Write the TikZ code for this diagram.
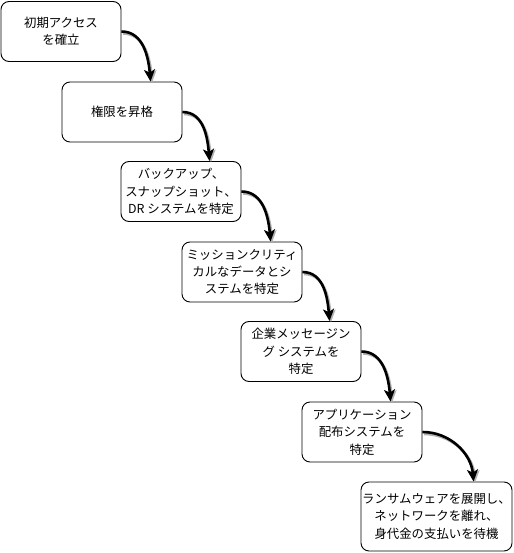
\documentclass[tikz,border=0pt]{standalone}
\usepackage{fontspec}
\setmainfont{Noto Sans CJK JP}
\usetikzlibrary{arrows.meta,calc}
\begin{document}
\begin{tikzpicture}[x=1pt,y=1pt,
  stepbox/.style={draw=black, line width=0.9pt, rounded corners=8pt, minimum width=120pt, minimum height=60pt, align=center, inner sep=1pt, font=\fontsize{12.4}{17.4}\selectfont},
  flow/.style={line width=2.6pt, -{Stealth[length=12pt,width=11pt,inset=3pt]}},
  flowshadow/.style={line width=2.6pt, draw=black!30, -{Stealth[length=12pt,width=11pt,inset=3pt]}}
]
\useasboundingbox (0,0) rectangle (513,-553);
\node[stepbox] (b1) at (61,-31.5) {初期アクセス\\を確立};
\node[stepbox] (b2) at (122,-112) {権限を昇格};
\node[stepbox] (b3) at (181,-191.5) {バックアップ、\\スナップショット、\\DR システムを特定};
\node[stepbox] (b4) at (242,-272) {ミッションクリティ\\カルなデータとシ\\ステムを特定};
\node[stepbox] (b5) at (301,-351.5) {企業メッセージン\\グ システムを\\特定};
\node[stepbox] (b6) at (362,-432) {アプリケーション\\配布システムを\\特定};
\node[stepbox, minimum width=151pt, minimum height=69pt] (b7) at (436.5,-516.5) {ランサムウェアを展開し、\\ネットワークを離れ、\\身代金の支払いを待機};
\coordinate (e1) at ($(b2.north west)+(89,0)$);
\coordinate (e2) at ($(b3.north west)+(89,0)$);
\coordinate (e3) at ($(b4.north west)+(89,0)$);
\coordinate (e4) at ($(b5.north west)+(89,0)$);
\coordinate (e5) at ($(b6.north west)+(89,0)$);
\coordinate (e6) at ($(b7.north west)+(113,0)$);
\foreach \a/\b in {b1/e1,b2/e2,b3/e3,b4/e4,b5/e5,b6/e6}{
  \draw[flowshadow] ([shift={(1.5,-2)}]\a.east) to[out=0,in=95] ([shift={(1.5,-1)}]\b);
  \draw[flow] (\a.east) to[out=0,in=95] (\b);
}
\end{tikzpicture}
\end{document}
